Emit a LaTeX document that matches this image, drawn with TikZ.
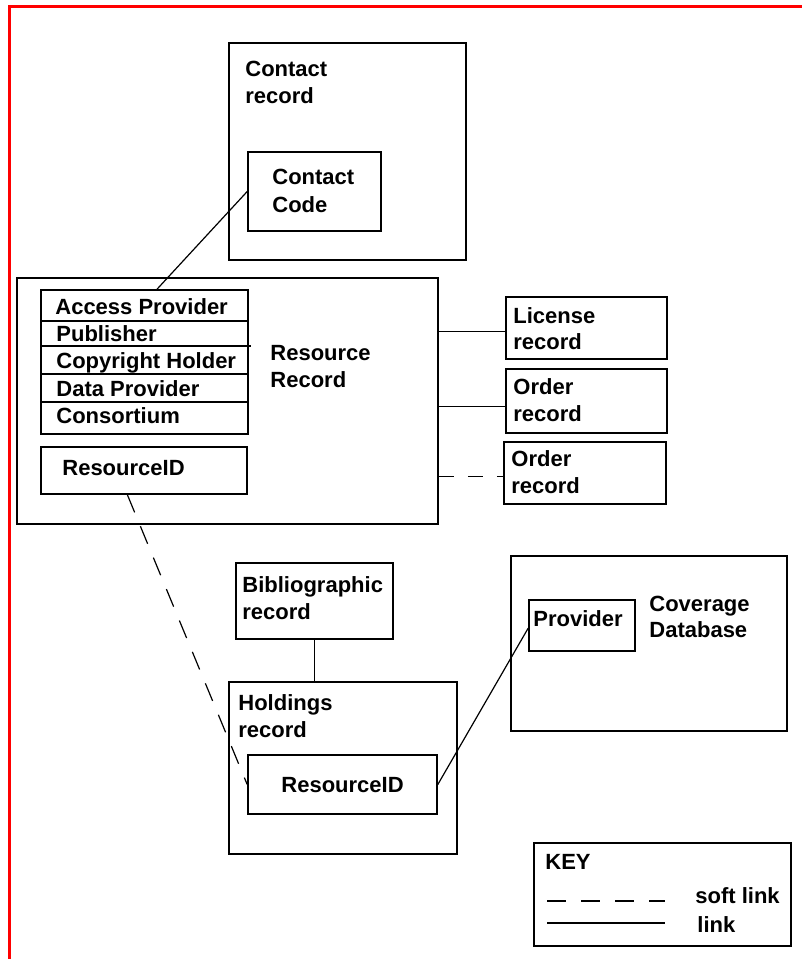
\documentclass[tikz,border=0pt]{standalone}
\usepackage{fontspec}
\setmainfont{Liberation Sans}
\usetikzlibrary{fit,calc}
\begin{document}
\begin{tikzpicture}[x=0.5pt,y=-0.5pt,
  box/.style={draw, inner sep=0pt, line width=0.8pt},
  lbl/.style={anchor=base west, inner sep=0pt, font=\fontsize{11}{13}\selectfont\bfseries},
  link/.style={line width=0.6pt},
  softlink/.style={line width=0.6pt, dash pattern=on 9.5pt off 7.5pt},
  shortsoft/.style={line width=0.6pt, dash pattern=on 7.5pt off 7pt},
  divider/.style={line width=0.8pt}]
\useasboundingbox (0,0) rectangle (802,959);
\fill[white] (0,0) rectangle (802,959);
\draw[red, line width=1.5pt, line join=miter] (9.7,959) -- (9.7,6.5) -- (802,6.5);

% boxes
\node[box, fit={(229,43) (466,260)}] (crec) {};
\node[box, fit={(248,152) (381,231)}] (ccode) {};
\node[box, fit={(17,278) (438,524)}] (rr) {};
\node[box, fit={(41,290) (248,434)}] (attr) {};
\node[box, fit={(41,447) (247,494)}] (rid1) {};
\node[box, fit={(506,297) (667,359)}] (lic) {};
\node[box, fit={(506,369) (667,433)}] (ord1) {};
\node[box, fit={(504,442) (666,504)}] (ord2) {};
\node[box, fit={(236,563) (393,639)}] (bib) {};
\node[box, fit={(229,682) (457,854)}] (hold) {};
\node[box, fit={(248,755) (437,814)}] (rid2) {};
\node[box, fit={(511,556) (787,731)}] (cov) {};
\node[box, fit={(529,600) (635,651)}] (prov) {};
\node[box, fit={(534,843) (791,946)}] (key) {};

% attribute dividers
\foreach \yy in {321,374,402} \draw[divider] (attr.west |- 0,\yy) -- (attr.east |- 0,\yy);
\draw[divider] (attr.west |- 0,346) -- (251,346);

% texts
\node[lbl] (t1) at (245,76) {Contact};
\node[lbl] (t2) at (245,103) {record};
\node[lbl] (t3) at (272,184) {Contact};
\node[lbl] (t4) at (272,212) {Code};
\node[lbl] (t5) at (55,314) {Access Provider};
\node[lbl] (t6) at (56,341) {Publisher};
\node[lbl] (t7) at (56,368) {Copyright Holder};
\node[lbl] (t8) at (56,396) {Data Provider};
\node[lbl] (t9) at (56,423) {Consortium};
\node[lbl] (t10) at (62,475) {ResourceID};
\node[lbl] (t11) at (270,360) {Resource};
\node[lbl] (t12) at (270,387) {Record};
\node[lbl] (t13) at (513,323) {License};
\node[lbl] (t14) at (513,349) {record};
\node[lbl] (t15) at (513,394) {Order};
\node[lbl] (t16) at (513,421) {record};
\node[lbl] (t17) at (511,466) {Order};
\node[lbl] (t18) at (511,493) {record};
\node[lbl] (t19) at (242,592) {Bibliographic};
\node[lbl] (t20) at (242,619) {record};
\node[lbl] (t21) at (238,710) {Holdings};
\node[lbl] (t22) at (238,737) {record};
\node[lbl] (t23) at (281,792) {ResourceID};
\node[lbl] (t24) at (533,626) {Provider};
\node[lbl] (t25) at (649,611) {Coverage};
\node[lbl] (t26) at (649,637) {Database};
\node[lbl] (t27) at (545,869) {KEY};
\node[lbl] (t28) at (695,903) {soft link};
\node[lbl] (t29) at (697,932) {link};

% connectors
\coordinate (ccend) at ($(attr.north west)!0.56!(attr.north east)$);
\draw[link] (ccode.west) -- (ccend);
\coordinate (licin) at ($(lic.north west)!0.56!(lic.south west)$);
\draw[link] (licin) -- (licin -| rr.east);
\coordinate (o1in) at ($(ord1.north west)!0.58!(ord1.south west)$);
\draw[link] (o1in) -- (o1in -| rr.east);
\coordinate (o2in) at ($(ord2.north west)!0.56!(ord2.south west)$);
\draw[shortsoft] (o2in -| rr.east) -- (o2in);
\coordinate (rid1out) at ($(rid1.south west)!0.42!(rid1.south east)$);
\draw[softlink] (rid1out) -- (rid2.west);
\draw[link] (bib.south) -- (bib.south |- hold.north);
\coordinate (provin) at ($(prov.north west)!0.55!(prov.south west)$);
\draw[link] (rid2.east) -- (provin);

% key samples
\coordinate (k1a) at (547,901);
\coordinate (k1b) at (665,901);
\coordinate (k2a) at (547,923);
\coordinate (k2b) at (665,923);
\draw[softlink] (k1a) -- (k1b);
\draw[link] (k2a) -- (k2b);
\end{tikzpicture}
\end{document}
